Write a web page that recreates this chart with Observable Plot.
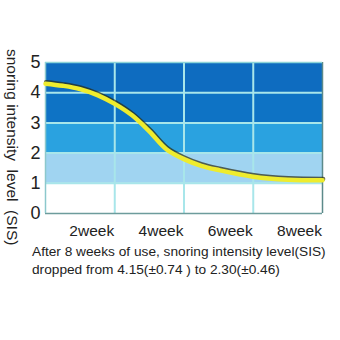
<!DOCTYPE html>
<html><head><meta charset="utf-8">
<script src="https://cdn.jsdelivr.net/npm/d3@7"></script>
<script src="https://cdn.jsdelivr.net/npm/@observablehq/plot@0.6"></script>
<style>
body{margin:0;background:#fff;font-family:"Liberation Sans",Arial,sans-serif;}
#wrap{position:relative;width:340px;height:340px;overflow:hidden;}
#ytitle{position:absolute;left:5px;top:49px;writing-mode:vertical-rl;font-size:15.5px;line-height:15px;color:#222;white-space:pre;}
#cap{position:absolute;left:32px;top:243px;font-size:13.7px;line-height:18px;color:#222;white-space:pre;}
</style></head><body>
<div id="wrap"><div id="chart"></div>
<div id="ytitle">snoring intensity  level  (SIS)</div>
<div id="cap"></div></div>
<script>
const weeks = [0, 0.5, 1, 1.5, 2, 2.5, 3, 3.5, 4, 4.5, 5, 6, 7, 8];
const sis = [4.3, 4.23, 4.12, 3.92, 3.63, 3.25, 2.72, 2.12, 1.8, 1.58, 1.44, 1.22, 1.12, 1.1];
const bandLow = [0, 1, 2, 3, 4];
const bandNames = ["b0", "b1", "b2", "b3", "b4"];
const xTicks = [2, 4, 6, 8];
const yTicks = [0, 1, 2, 3, 4, 5];
const captionLines = ["After 8 weeks of use, snoring intensity level(SIS)", "dropped from 4.15(\u00b10.74 ) to 2.30(\u00b10.46)"];

document.getElementById("cap").textContent = captionLines.join("\n");
const curve = weeks.map((w, i) => ({w, v: sis[i]}));
const bands = bandLow.map((b, i) => ({y1: b, y2: b + 1, name: bandNames[i]}));

const chart = Plot.plot({
  width: 340, height: 240,
  marginLeft: 45, marginRight: 18, marginTop: 62, marginBottom: 27,
  style: {fontFamily: "'Liberation Sans', Arial, sans-serif", color: "#222", background: "transparent"},
  x: {domain: [0, 8]},
  y: {domain: [0, 5]},
  color: {domain: bandNames, range: ["#ffffff", "#a0d4f1", "#2aa2e0", "#0e73c5", "#0e6cc0"]},
  marks: [
    Plot.rect(bands, {x1: 0, x2: 8, y1: "y1", y2: "y2", fill: "name"}),
    Plot.ruleY([1, 2, 3, 4], {stroke: "#a8e6ea", strokeWidth: 2}),
    Plot.ruleX([2, 4, 6], {stroke: "#a8e6ea", strokeWidth: 2}),
    Plot.ruleY([0], {stroke: "#6d9c9c", strokeWidth: 1.5}),
    Plot.ruleX([8], {stroke: "#5c8a8a", strokeWidth: 1.5}),
    Plot.ruleX([0], {stroke: "#8cc8cc", strokeWidth: 1.5}),
    Plot.ruleY([5], {stroke: "#8cd4d8", strokeWidth: 1.5}),
    Plot.line(curve, {x: "w", y: "v", curve: "catmull-rom", stroke: "#2a2a10", strokeOpacity: 0.7, strokeWidth: 4.5, dx: 0.6, dy: -1.4}),
    Plot.line(curve, {x: "w", y: "v", curve: "catmull-rom", stroke: "#eeec2e", strokeWidth: 4.5}),
    Plot.axisY({ticks: yTicks, tickFormat: d3.format("d"), tickSize: 0, tickPadding: 5, fontSize: 18, label: null}),
    Plot.axisX({ticks: xTicks, tickFormat: d => d + "week", tickSize: 0, tickPadding: 11, dx: -23, fontSize: 15.5, label: null})
  ]
});
document.getElementById("chart").appendChild(chart);
</script></body></html>
